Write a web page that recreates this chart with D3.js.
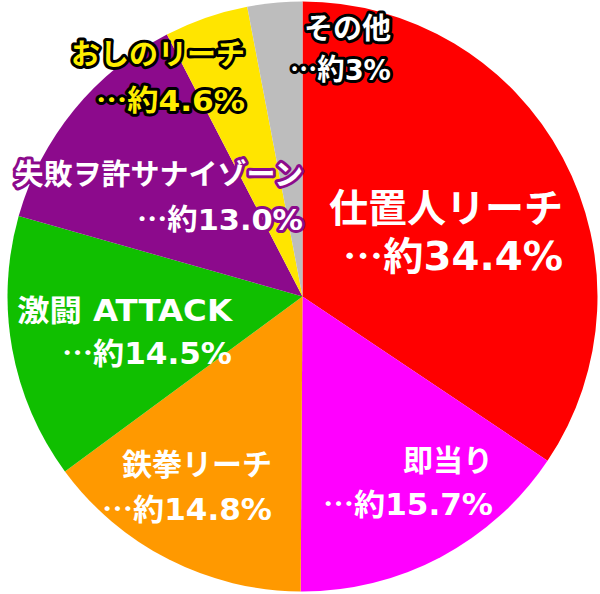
<!DOCTYPE html>
<html><head><meta charset="utf-8">
<script src="https://cdn.jsdelivr.net/npm/d3@7"></script>
<style>html,body{margin:0;padding:0;background:#fff;}svg{display:block;}</style>
</head><body>
<svg id="chart" width="600" height="594"></svg>
<script>
// data
const categories = ["仕置人リーチ", "即当り", "鉄拳リーチ", "激闘 ATTACK", "失敗ヲ許サナイゾーン", "おしのリーチ", "その他"];
const values = [34.4, 15.7, 14.8, 14.5, 13.0, 4.6, 3];
const valueLabels = ["…約34.4%", "…約15.7%", "…約14.8%", "…約14.5%", "…約13.0%", "…約4.6%", "…約3%"];

// styling / layout
const colors = ["#ff0000", "#ff00ff", "#ff9900", "#10bf00", "#8c0a8c", "#ffe500", "#bdbdbd"];
const labelStyle = [
  {x: 563, y1: 222, y2: 270, fs: 39, w1: null, w2: 220, fill: "#fff", stroke: "none"},
  {x: 493, y1: 471, y2: 515, fs: 30, w1: null, w2: 170, fill: "#fff", stroke: "none"},
  {x: 272, y1: 475, y2: 520, fs: 30, w1: null, w2: 170, fill: "#fff", stroke: "none"},
  {x: 232, y1: 321, y2: 364, fs: 30, w1: 215, w2: 170, fill: "#fff", stroke: "none"},
  {x: 303, y1: 185, y2: 230, fs: 29, w1: null, w2: 166, fill: "#fff", stroke: "#8c0a8c"},
  {x: 245, y1: 65, y2: 111, fs: 29, w1: null, w2: 149, fill: "#ffee00", stroke: "#000"},
  {x: 391, y1: 39, y2: 80, fs: 29, w1: null, w2: 101, fill: "#fff", stroke: "#000"}
];

const svg = d3.select("#chart");
const cx = 302.5, cy = 296.5, R = 295;
const pie = d3.pie().sort(null).value(d => d)(values);
const arc = d3.arc().innerRadius(0).outerRadius(R);
const g = svg.append("g").attr("transform", `translate(${cx},${cy})`);
g.selectAll("path").data(pie).join("path")
  .attr("d", arc).attr("fill", (d, i) => colors[i]);

const fontFam = "'DejaVu Sans', 'Noto Sans CJK JP', sans-serif";
const cjkFam = "'Noto Sans CJK JP', sans-serif";
const lab = svg.append("g");
categories.forEach((c, i) => {
  const s = labelStyle[i];
  [[c, s.y1, s.w1], [valueLabels[i], s.y2, s.w2]].forEach(([t, y, w]) => {
    const el = lab.append("text")
      .attr("x", s.x).attr("y", y)
      .attr("text-anchor", "end")
      .attr("font-family", fontFam)
      .attr("font-weight", 700)
      .attr("font-size", s.fs)
      .attr("fill", s.fill)
      .attr("stroke", s.stroke)
      .attr("stroke-width", s.stroke === "none" ? 0 : 6)
      .attr("stroke-linejoin", "round")
      .attr("paint-order", "stroke");
    if (t.startsWith("…")) {
      el.append("tspan").attr("font-family", cjkFam).text(t.slice(0, 2));
      el.append("tspan").text(t.slice(2));
    } else {
      el.text(t);
    }
    if (w) el.attr("textLength", w).attr("lengthAdjust", "spacingAndGlyphs");
  });
});
</script>
</body></html>
